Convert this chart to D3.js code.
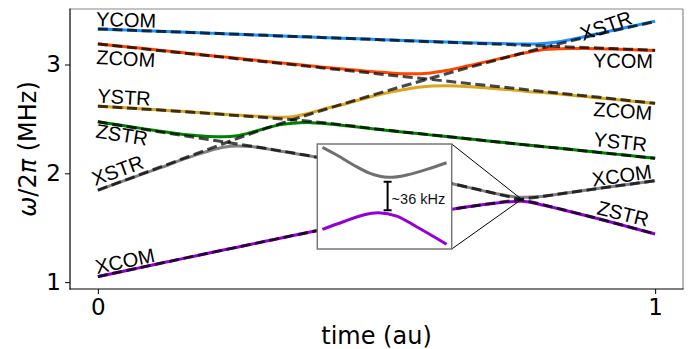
<!DOCTYPE html>
<html><head><meta charset="utf-8">
<script src="https://cdn.jsdelivr.net/npm/d3@7"></script>
<style>body{margin:0;background:#fff}svg{display:block}</style>
</head><body><svg id="c" width="688" height="349"></svg>
<script>
// ---------------- data ----------------
// diabatic (dashed) mode frequencies, MHz
const diaTime = [0,0.1,0.2,0.3,0.4,0.5,0.6,0.7,0.8,0.9,1.0];
const diaYCOM = [3.327,3.307,3.288,3.268,3.249,3.229,3.209,3.190,3.170,3.151,3.131];
const diaZCOM = [3.189,3.134,3.080,3.025,2.971,2.916,2.861,2.807,2.752,2.698,2.643];
const diaYSTR = [2.617,2.585,2.550,2.512,2.468,2.408,2.352,2.298,2.245,2.192,2.138];
const diaZSTR = [2.473,2.390,2.310,2.230,2.142,2.045,1.945,1.830,1.710,1.580,1.443];
const diaXSTR = [1.845,2.035,2.225,2.410,2.575,2.730,2.878,3.020,3.155,3.280,3.395];
const diaXCOM = [1.051,1.160,1.268,1.375,1.480,1.567,1.645,1.718,1.790,1.862,1.932];

// adiabatic (solid) eigenfrequencies, MHz
const adiaTime = [0,0.05,0.1,0.125,0.15,0.175,0.2,0.225,0.25,0.275,0.3,0.325,0.35,0.375,0.4,0.45,0.5,0.525,0.55,0.575,0.6,0.625,0.65,0.7,0.74,0.75,0.76,0.775,0.8,0.825,0.85,0.875,0.9,0.95,1.0];
const adia1 = [3.327,3.317,3.307,3.3025,3.298,3.293,3.288,3.283,3.278,3.273,3.268,3.263,3.258,3.254,3.249,3.240,3.230,3.225,3.221,3.216,3.212,3.207,3.203,3.195,3.190,3.189,3.188,3.188,3.194,3.2075,3.230,3.2575,3.286,3.3425,3.398];
const adia2 = [3.190,3.164,3.137,3.124,3.110,3.096,3.083,3.070,3.057,3.043,3.030,3.017,3.004,2.991,2.978,2.953,2.931,2.922,2.916,2.916,2.925,2.945,2.971,3.029,3.076,3.088,3.100,3.115,3.137,3.144,3.1475,3.147,3.144,3.137,3.129];
const adia3 = [2.618,2.602,2.586,2.578,2.5695,2.5614,2.5527,2.5438,2.535,2.529,2.520,2.515,2.521,2.547,2.583,2.6465,2.718,2.747,2.770,2.790,2.802,2.805,2.800,2.785,2.768,2.763,2.758,2.750,2.742,2.730,2.717,2.705,2.692,2.667,2.642];
const adia4 = [2.474,2.434,2.396,2.377,2.360,2.348,2.338,2.336,2.346,2.376,2.412,2.445,2.461,2.466,2.460,2.434,2.405,2.392,2.378,2.365,2.351,2.338,2.325,2.298,2.277,2.271,2.266,2.258,2.245,2.232,2.218,2.205,2.192,2.165,2.138];
const adia5 = [1.844,1.937,2.030,2.074,2.123,2.167,2.208,2.240,2.252,2.246,2.228,2.205,2.185,2.164,2.141,2.094,2.045,2.020,1.995,1.970,1.945,1.917,1.888,1.830,1.790,1.783,1.779,1.782,1.790,1.808,1.826,1.844,1.862,1.897,1.932];
const adia6 = [1.051,1.105,1.160,1.187,1.214,1.241,1.268,1.295,1.321,1.348,1.375,1.401,1.428,1.454,1.480,1.524,1.567,1.5865,1.606,1.6255,1.645,1.663,1.682,1.718,1.739,1.742,1.743,1.735,1.706,1.676,1.645,1.613,1.580,1.512,1.443];

// inset: magnified avoided crossing
const insetTimeUp = [0.730,0.7369,0.745,0.753,0.7618,0.7707,0.7804,0.790];
const insetUpper  = [1.8095,1.8017,1.7915,1.7831,1.7790,1.7813,1.7871,1.7938];
const insetTimeLo = [0.730,0.7401,0.7498,0.757,0.7659,0.7755,0.790];
const insetLower  = [1.7261,1.7338,1.7407,1.7430,1.7396,1.7287,1.7110];
const gapLabel = "~36 kHz";
const gapTime = 0.7615;
const gapBottom = 1.7455, gapTop = 1.7745;
const crossTime = 0.7605, crossFreq = 1.761;

const xTicks = [0, 1];
const yTicks = [1, 2, 3];
const leftLabels  = ["YCOM","ZCOM","YSTR","ZSTR","XSTR","XCOM"];
const rightLabels = ["XSTR","YCOM","ZCOM","YSTR","XCOM","ZSTR"];

// ---------------- layout / style ----------------
const L = 70, R = 683, T = 9, B = 289;
const svg = d3.select("#c");
const x = d3.scaleLinear().domain([-0.05, 1.05]).range([L, R]);
const y = d3.scaleLinear().domain([0.937, 3.51]).range([B, T]);

const colors = ["#1e90ff","#ff4500","#daa520","#008000","#808080","#9400d3"];
const adia = [adia1, adia2, adia3, adia4, adia5, adia6];
const dia = [diaYCOM, diaZCOM, diaYSTR, diaZSTR, diaXSTR, diaXCOM];

const lineA = d3.line().curve(d3.curveMonotoneX);
const g = svg.append("g");
adia.forEach((ys, i) => {
  g.append("path")
    .attr("d", lineA(adiaTime.map((t, k) => [x(t), y(ys[k])])))
    .attr("fill", "none").attr("stroke", colors[i]).attr("stroke-width", 3);
});
const lineD = d3.line().curve(d3.curveNatural);
dia.forEach(ys => {
  g.append("path")
    .attr("d", lineD(diaTime.map((t, k) => [x(t), y(ys[k])])))
    .attr("fill", "none").attr("stroke", "#000").attr("stroke-opacity", 0.72)
    .attr("stroke-width", 3).attr("stroke-dasharray", "10,4.6");
});

// curve labels
const labFont = "'Liberation Sans', Arial, Helvetica, sans-serif";
const leftPos = [[96,26,1.5],[96,64,3],[97,102.5,3.5],[95,137.5,9],[95,186,-20],[97,274,-12]];
const rightPos = [[583,41,-19],[593,67.5,0.5],[593,116,4],[593,146,6],[593,186.5,-8],[596,214,14]];
function addLabel(txt, p) {
  svg.append("text").text(txt)
    .attr("x", p[0]).attr("y", p[1])
    .attr("transform", `rotate(${p[2]},${p[0]},${p[1]})`)
    .attr("font-family", labFont).attr("font-size", 20).attr("fill", "#000");
}
leftLabels.forEach((t, i) => addLabel(t, leftPos[i]));
rightLabels.forEach((t, i) => addLabel(t, rightPos[i]));

// inset
const IX0 = 317.3, IX1 = 451.7, IY0 = 144, IY1 = 249;
[[IX1, IY0], [IX1, IY1]].forEach(p => {
  svg.append("line").attr("x1", p[0]).attr("y1", p[1])
    .attr("x2", x(crossTime)).attr("y2", y(crossFreq))
    .attr("stroke", "#000").attr("stroke-width", 1);
});
const ix = d3.scaleLinear().domain([0.7275, 0.7925]).range([IX0, IX1]);
const iy = d3.scaleLinear().domain([1.7061, 1.8129]).range([IY1, IY0]);
svg.append("defs").append("clipPath").attr("id", "ic")
  .append("rect").attr("x", IX0).attr("y", IY0).attr("width", IX1 - IX0).attr("height", IY1 - IY0);
svg.append("rect").attr("x", IX0).attr("y", IY0).attr("width", IX1 - IX0).attr("height", IY1 - IY0)
  .attr("fill", "#fff");
const ig = svg.append("g").attr("clip-path", "url(#ic)");
const lineI = d3.line().curve(d3.curveCatmullRom);
ig.append("path").attr("d", lineI(insetTimeUp.map((t, k) => [ix(t), iy(insetUpper[k])])))
  .attr("fill", "none").attr("stroke", "#707070").attr("stroke-width", 3);
ig.append("path").attr("d", lineI(insetTimeLo.map((t, k) => [ix(t), iy(insetLower[k])])))
  .attr("fill", "none").attr("stroke", "#9400d3").attr("stroke-width", 3);
const gx = ix(gapTime);
svg.append("line").attr("x1", gx).attr("x2", gx).attr("y1", iy(gapTop)).attr("y2", iy(gapBottom))
  .attr("stroke", "#000").attr("stroke-width", 2);
[gapTop, gapBottom].forEach(v => svg.append("line").attr("x1", gx - 4).attr("x2", gx + 4)
  .attr("y1", iy(v)).attr("y2", iy(v)).attr("stroke", "#000").attr("stroke-width", 2));
svg.append("text").text(gapLabel).attr("x", gx + 4).attr("y", 203.5)
  .attr("font-family", labFont).attr("font-size", 14.5).attr("fill", "#111");
svg.append("rect").attr("x", IX0).attr("y", IY0).attr("width", IX1 - IX0).attr("height", IY1 - IY0)
  .attr("fill", "none").attr("stroke", "#777").attr("stroke-width", 1.5);

// frame
svg.append("line").attr("x1", L).attr("x2", R).attr("y1", T).attr("y2", T).attr("stroke", "#888").attr("stroke-width", 1.2);
svg.append("line").attr("x1", R).attr("x2", R).attr("y1", T).attr("y2", B).attr("stroke", "#888").attr("stroke-width", 1.2);
svg.append("line").attr("x1", L).attr("x2", L).attr("y1", T - 0.6).attr("y2", B + 0.6).attr("stroke", "#000").attr("stroke-width", 1.2);
svg.append("line").attr("x1", L - 0.6).attr("x2", R + 0.6).attr("y1", B).attr("y2", B).attr("stroke", "#000").attr("stroke-width", 1.2);

// axes
const tickFont = "'DejaVu Sans', sans-serif";
const xAxis = svg.append("g").attr("transform", `translate(0,${B})`)
  .call(d3.axisBottom(x).tickValues(xTicks).tickFormat(d3.format("d")).tickSize(5).tickPadding(5));
const yAxis = svg.append("g").attr("transform", `translate(${L},0)`)
  .call(d3.axisLeft(y).tickValues(yTicks).tickFormat(d3.format("d")).tickSize(5).tickPadding(4));
[xAxis, yAxis].forEach(a => {
  a.select(".domain").remove();
  a.selectAll("text").attr("font-family", tickFont).attr("font-size", 23).attr("fill", "#000");
  a.selectAll("line").attr("stroke", "#000").attr("stroke-width", 1);
});

svg.append("text").text("time (au)").attr("x", (L + R) / 2).attr("y", 344)
  .attr("text-anchor", "middle").attr("font-family", tickFont).attr("font-size", 24).attr("fill", "#000");
const yl = svg.append("text").attr("transform", `translate(36,${(T + B) / 2}) rotate(-90)`)
  .attr("text-anchor", "middle").attr("font-family", tickFont).attr("font-size", 24).attr("fill", "#000");
yl.append("tspan").attr("font-style", "italic").text("ω");
yl.append("tspan").text("/2");
yl.append("tspan").attr("font-style", "italic").text("π");
yl.append("tspan").text(" (MHz)");
</script></body></html>
